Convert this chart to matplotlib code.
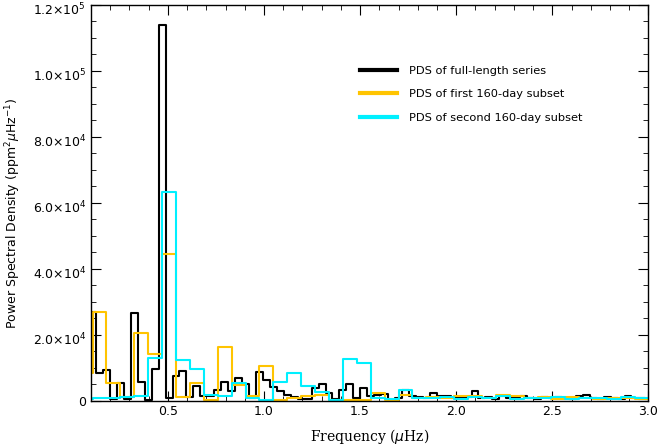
import numpy as np
import matplotlib
matplotlib.use('Agg')
import matplotlib.pyplot as plt
import matplotlib.transforms as mtransforms
from matplotlib.ticker import MultipleLocator, FuncFormatter

# frequency resolution: full series ~320 d, subsets 160 d
df_full = 1.0 / (320 * 86400) * 1e6   # muHz
df_sub = 2 * df_full

# full-length PDS, bins k = 2..83
k_full = np.arange(2, 84)
pds_full = [25000, 27000, 8400, 9300, 400, 5300, 400, 26500, 5500, 150,
            9600, 114000, 900, 7300, 8900, 1000, 4500, 1400, 1400, 3100,
            5500, 2900, 6700, 5100, 700, 8700, 6300, 4100, 3000, 1600,
            1000, 500, 500, 3700, 5000, 2200, 500, 3300, 5000, 900,
            3700, 1300, 1800, 2000, 300, 900, 3100, 1400, 1200, 800,
            2400, 1300, 1500, 900, 800, 1100, 3000, 800, 1000, 600,
            1400, 900, 1100, 1500, 800, 600, 1000, 700, 1200, 800,
            600, 1400, 1600, 800, 600, 1000, 700, 500, 1300, 700,
            900, 600]

# 160-day subsets, bins j = 1..42
k_sub = np.arange(1, 43)
pds_first = [8400, 26700, 5200, 1100, 20600, 14100, 44300, 1200, 5300, 200,
             16100, 4800, 1400, 10400, 200, 900, 1300, 1800, 300, 200,
             300, 2200, 200, 1800, 700, 1100, 800, 1500, 1300, 900,
             1600, 1400, 800, 1100, 600, 1000, 800, 600, 900, 700,
             600, 700]
pds_second = [500, 800, 900, 1000, 1400, 13000, 63300, 12300, 9500, 1800,
              1400, 5200, 900, 300, 5500, 8200, 4500, 2600, 300, 12500,
              11300, 800, 400, 3300, 700, 900, 1100, 600, 1200, 800,
              1500, 600, 900, 700, 1200, 600, 800, 900, 600, 1000,
              700, 600]

labels = ['PDS of full-length series',
          'PDS of first 160-day subset',
          'PDS of second 160-day subset']
colors = ['black', '#FFC400', '#00F0FF']

fig = plt.figure(figsize=(6.59, 4.48), dpi=100)
ax = fig.add_axes([0.138, 0.106, 0.846, 0.883])

ax.step(k_full * df_full, pds_full, where='mid', color=colors[0], lw=1.5, label=labels[0])
ax.step(k_sub * df_sub, pds_first, where='mid', color=colors[1], lw=1.5, label=labels[1])
ax.step(k_sub * df_sub, pds_second, where='mid', color=colors[2], lw=1.5, label=labels[2])

ax.set_xlim(0.1, 3.0)
ax.set_ylim(0, 1.2e5)

ax.xaxis.set_major_locator(MultipleLocator(0.5))
ax.xaxis.set_minor_locator(MultipleLocator(0.1))
ax.yaxis.set_major_locator(MultipleLocator(2e4))
ax.yaxis.set_minor_locator(MultipleLocator(5000))

def yfmt(v, pos):
    if v <= 0:
        return '0' if v == 0 else ''
    e = int(np.floor(np.log10(v)))
    return '%.1f×10$^{%d}$' % (v / 10**e, e)

ax.yaxis.set_major_formatter(FuncFormatter(yfmt))
ax.xaxis.set_major_formatter(FuncFormatter(lambda v, p: '%.1f' % v))
ax.tick_params(which='both', direction='in', top=True, right=True, labelsize=9)
ax.tick_params(which='major', length=7)
ax.tick_params(which='minor', length=3.5)
for s in ax.spines.values():
    s.set_linewidth(1.0)

ax.set_xlabel('Frequency ($\\mu$Hz)', family='DejaVu Serif', fontsize=10, labelpad=6)
ax.set_ylabel('Power Spectral Density (ppm$^2\\mu$Hz$^{-1}$)', fontsize=9)
ax.yaxis.set_label_coords(-0.122, 0.474)

leg = ax.legend(loc='upper left', bbox_to_anchor=(0.4717, 0.861), frameon=False,
                borderpad=0, fontsize=8.2, handlelength=3.3, handletextpad=1.05,
                labelspacing=1.2)
for h in leg.get_lines():
    h.set_linewidth(3)

# the x10^n labels sit a little below their ticks, like the original
fig.canvas.draw()
shift = mtransforms.ScaledTranslation(0, -4 / 100, fig.dpi_scale_trans)
for t in ax.yaxis.get_major_ticks():
    if t.get_loc() > 0:
        t.label1.set_transform(t.label1.get_transform() + shift)

fig.savefig('out.png', dpi=100)
